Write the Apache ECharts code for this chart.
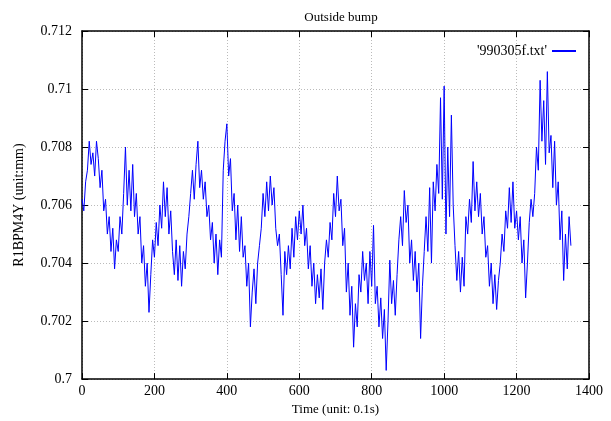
<!DOCTYPE html>
<html>
<head>
<meta charset="utf-8">
<script src="https://cdn.jsdelivr.net/npm/echarts@6/dist/echarts.min.js"></script>
<style>
  html, body { margin: 0; padding: 0; background: #fff; }
  #chart { width: 611px; height: 421px; }
</style>
</head>
<body>
<div id="chart"></div>
<script>
// sample spacing along the time axis (unit: 0.1s)
const step = 5;

// R1BPM4Y readings, every 5 samples, in chunks of 50
const bpm = [
  0.7062, 0.7058, 0.7068, 0.7072, 0.7082, 0.7074, 0.7078, 0.7070, 0.7082, 0.7076,
  0.7066, 0.7072, 0.7058, 0.7062, 0.7050, 0.7056, 0.7044, 0.7052, 0.7038, 0.7048,
  0.7044, 0.7056, 0.7050, 0.7064, 0.7080, 0.7060, 0.7072, 0.7058, 0.7074, 0.7056,
  0.7064, 0.7050, 0.7056, 0.7040, 0.7046, 0.7032, 0.7040, 0.7023, 0.7036, 0.7048,
  0.7042, 0.7054, 0.7046, 0.7060, 0.7052, 0.7068, 0.7056, 0.7066, 0.7050, 0.7058,
  0.7044, 0.7036, 0.7048, 0.7034, 0.7046, 0.7032, 0.7044, 0.7038, 0.7050, 0.7056,
  0.7064, 0.7072, 0.7062, 0.7074, 0.7082, 0.7066, 0.7072, 0.7062, 0.7068, 0.7056,
  0.7060, 0.7048, 0.7054, 0.7040, 0.7050, 0.7036, 0.7048, 0.7042, 0.7072, 0.7082,
  0.7088, 0.7070, 0.7076, 0.7058, 0.7064, 0.7048, 0.7060, 0.7044, 0.7056, 0.7042,
  0.7046, 0.7032, 0.7040, 0.7018, 0.7030, 0.7038, 0.7026, 0.7040, 0.7046, 0.7052,
  0.7064, 0.7056, 0.7068, 0.7058, 0.7070, 0.7060, 0.7066, 0.7052, 0.7046, 0.7050,
  0.7036, 0.7022, 0.7044, 0.7036, 0.7046, 0.7038, 0.7052, 0.7042, 0.7056, 0.7048,
  0.7058, 0.7050, 0.7060, 0.7046, 0.7052, 0.7038, 0.7046, 0.7032, 0.7040, 0.7026,
  0.7036, 0.7028, 0.7038, 0.7024, 0.7040, 0.7048, 0.7042, 0.7054, 0.7048, 0.7064,
  0.7056, 0.7070, 0.7058, 0.7062, 0.7046, 0.7052, 0.7030, 0.7040, 0.7022, 0.7032,
  0.7011, 0.7026, 0.7018, 0.7036, 0.7030, 0.7044, 0.7034, 0.7040, 0.7026, 0.7044,
  0.7032, 0.7053, 0.7026, 0.7032, 0.7018, 0.7028, 0.7014, 0.7024, 0.7003, 0.7020,
  0.7041, 0.7026, 0.7034, 0.7022, 0.7036, 0.7048, 0.7056, 0.7046, 0.7065, 0.7054,
  0.7060, 0.7040, 0.7048, 0.7034, 0.7044, 0.7030, 0.7040, 0.7014, 0.7032, 0.7044,
  0.7056, 0.7044, 0.7066, 0.7040, 0.7068, 0.7058, 0.7074, 0.7064, 0.7097, 0.7062,
  0.7101, 0.7050, 0.7080, 0.7056, 0.7091, 0.7060, 0.7046, 0.7034, 0.7044, 0.7030,
  0.7042, 0.7032, 0.7056, 0.7050, 0.7062, 0.7054, 0.7075, 0.7058, 0.7068, 0.7056,
  0.7064, 0.7050, 0.7056, 0.7042, 0.7046, 0.7032, 0.7040, 0.7026, 0.7036, 0.7024,
  0.7034, 0.7040, 0.7050, 0.7044, 0.7058, 0.7052, 0.7066, 0.7054, 0.7068, 0.7052,
  0.7058, 0.7048, 0.7056, 0.7040, 0.7048, 0.7028, 0.7040, 0.7054, 0.7062, 0.7056,
  0.7064, 0.7080, 0.7072, 0.7103, 0.7082, 0.7096, 0.7074, 0.7106, 0.7078, 0.7084,
  0.7066, 0.7082, 0.7060, 0.7068, 0.7048, 0.7058, 0.7034, 0.7050, 0.7038, 0.7056,
  0.7046
];

const xTicks = [0, 200, 400, 600, 800, 1000, 1200, 1400];
const yTicks = [0.700, 0.702, 0.704, 0.706, 0.708, 0.710, 0.712];

const points = bpm.map((v, i) => [i * step, v]);

const chart = echarts.init(document.getElementById('chart'), null, { renderer: 'canvas' });

const font = 'Liberation Serif';
const tickStyle = { show: true, inside: true, length: 6, lineStyle: { color: '#000', width: 1 } };
const gridStyle = { show: true, lineStyle: { color: '#bbb', type: [1, 2], width: 1 } };

chart.setOption({
  animation: false,
  backgroundColor: '#fff',
  textStyle: { fontFamily: font },
  title: {
    text: 'Outside bump',
    left: 336, top: 6,
    textAlign: 'center',
    textStyle: { fontFamily: font, fontSize: 13, fontWeight: 'normal', color: '#000' }
  },
  legend: {
    right: 30, top: 39,
    align: 'right',
    itemWidth: 24, itemHeight: 2, itemGap: 4,
    icon: 'rect',
    textStyle: { fontFamily: font, fontSize: 14, color: '#000' },
    data: ["'990305f.txt'"]
  },
  grid: { left: 82, right: 22, top: 31, bottom: 36 },
  xAxis: [{
    type: 'value',
    min: xTicks[0], max: xTicks[xTicks.length - 1], interval: 200,
    name: 'Time (unit: 0.1s)',
    nameLocation: 'middle', nameGap: 20,
    nameTextStyle: { fontFamily: font, fontSize: 13, color: '#000' },
    axisLine: { show: true, onZero: false, lineStyle: { color: '#000', width: 1.5 } },
    axisTick: tickStyle,
    axisLabel: { fontFamily: font, fontSize: 14, color: '#000', margin: 5, formatter: v => String(v) },
    splitLine: gridStyle
  }, {
    type: 'value', position: 'top',
    min: xTicks[0], max: xTicks[xTicks.length - 1], interval: 200,
    axisLine: { show: true, onZero: false, lineStyle: { color: '#000', width: 1.5 } },
    axisTick: tickStyle,
    axisLabel: { show: false },
    splitLine: { show: false }
  }],
  yAxis: [{
    type: 'value',
    min: yTicks[0], max: yTicks[yTicks.length - 1], interval: 0.002,
    name: 'R1BPM4Y (unit:mm)',
    nameLocation: 'middle', nameGap: 56, nameRotate: 90,
    nameTextStyle: { fontFamily: font, fontSize: 14, color: '#000' },
    axisLine: { show: true, onZero: false, lineStyle: { color: '#000', width: 1.5 } },
    axisTick: tickStyle,
    axisLabel: {
      fontFamily: font, fontSize: 14, color: '#000', margin: 10,
      formatter: v => String(parseFloat(v.toFixed(3)))
    },
    splitLine: gridStyle
  }, {
    type: 'value', position: 'right',
    min: yTicks[0], max: yTicks[yTicks.length - 1], interval: 0.002,
    axisLine: { show: true, onZero: false, lineStyle: { color: '#000', width: 1.5 } },
    axisTick: tickStyle,
    axisLabel: { show: false },
    splitLine: { show: false }
  }],
  series: [{
    name: "'990305f.txt'",
    type: 'line',
    data: points,
    showSymbol: false,
    symbol: 'none',
    lineStyle: { color: '#0000ff', width: 1 },
    itemStyle: { color: '#0000ff' }
  }]
});
</script>
</body>
</html>
